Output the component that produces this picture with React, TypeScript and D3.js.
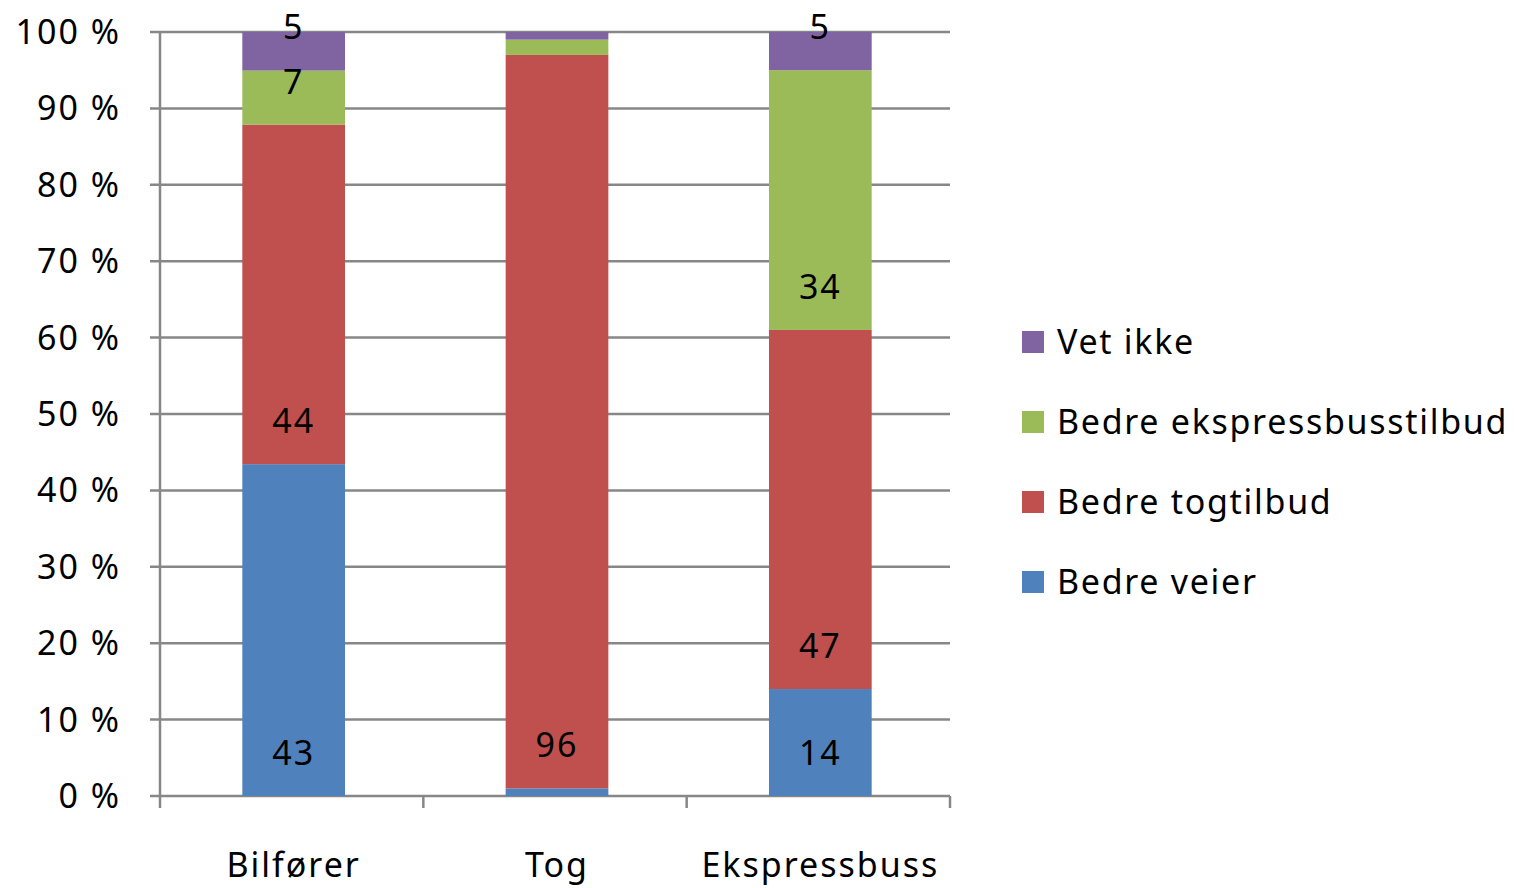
import React from "react"
import * as d3 from "d3"

const categories = ["Bilfører", "Tog", "Ekspressbuss"]
const seriesNames = ["Bedre veier", "Bedre togtilbud", "Bedre ekspressbusstilbud", "Vet ikke"]
const veier = [43, 1, 14]
const togtilbud = [44, 96, 47]
const ekspress = [7, 2, 34]
const vetIkke = [5, 1, 5]
const colors = ["#4F81BD", "#C0504D", "#9BBB59", "#8064A2"]
const yTicks = [0, 10, 20, 30, 40, 50, 60, 70, 80, 90, 100]

const W = 1515
const H = 888
const left = 160
const right = 950
const top = 32
const bottom = 796
const font = "'Noto Sans', 'Open Sans', sans-serif"

const App = () => {
	const values = [veier, togtilbud, ekspress, vetIkke]

	// 100% stacked: normalise each category
	const rows = categories.map((c, i) => {
		const row: any = { cat: c }
		seriesNames.forEach((s, k) => (row[s] = values[k][i]))
		return row
	})
	const stack = d3.stack().keys(seriesNames).offset(d3.stackOffsetExpand)
	const stacked = stack(rows)

	const x = d3
		.scaleBand()
		.domain(categories)
		.range([left, right])
		.paddingInner(0.61)
		.paddingOuter(0.305)
	const y = d3.scaleLinear().domain([0, 1]).range([bottom, top])
	const step = x.step()
	const boundaries = d3.range(categories.length + 1).map(i => left + i * step)
	const cx = (c: string) => (x(c) as number) + x.bandwidth() / 2 + 2

	return (
		<svg width={W} height={H} style={{ display: "block", position: "absolute", left: 0, top: 0 }}>
			<rect width={W} height={H} fill="#fff" />
			{/* gridlines */}
			{yTicks.map(t => (
				<line
					key={t}
					x1={left - 10}
					x2={right}
					y1={y(t / 100)}
					y2={y(t / 100)}
					stroke="#878787"
					strokeWidth={2.5}
				/>
			))}
			{/* axes */}
			<line x1={left} x2={left} y1={top} y2={bottom + 12} stroke="#878787" strokeWidth={2.5} />
			{boundaries.slice(1).map((b, i) => (
				<line key={i} x1={b} x2={b} y1={bottom} y2={bottom + 12} stroke="#878787" strokeWidth={2.5} />
			))}
			{yTicks.map(t => (
				<text
					key={t}
					x={121}
					y={y(t / 100)}
					dy="0.35em"
					textAnchor="end"
					fontFamily={font}
					fontSize={34}
					letterSpacing={2}
					fill="#000"
				>
					{t} %
				</text>
			))}
			{/* bars */}
			{stacked.map((s, k) =>
				s.map((d, i) => (
					<rect
						key={k + "-" + i}
						x={cx(categories[i]) - x.bandwidth() / 2}
						width={x.bandwidth()}
						y={y(d[1])}
						height={y(d[0]) - y(d[1])}
						fill={colors[k]}
					/>
				)),
			)}
			{/* data labels, inside base */}
			{stacked.map((s, k) =>
				s.map((d, i) =>
					values[k][i] >= 3 ? (
						<text
							key={"l" + k + "-" + i}
							x={cx(categories[i])}
							y={y(d[0]) - 43}
							dy="0.35em"
							textAnchor="middle"
							fontFamily={font}
							fontSize={34}
							letterSpacing={2}
							fill="#000"
						>
							{values[k][i]}
						</text>
					) : null,
				),
			)}
			{/* x labels */}
			{categories.map(c => (
				<text
					key={c}
					x={cx(c)}
					y={877}
					textAnchor="middle"
					fontFamily={font}
					fontSize={34}
					letterSpacing={2}
					fill="#000"
				>
					{c}
				</text>
			))}
			{/* legend */}
			{seriesNames
				.slice()
				.reverse()
				.map((s, i) => {
					const cy = 342 + i * 80
					const ci = seriesNames.indexOf(s)
					return (
						<g key={s}>
							<rect x={1022} y={cy - 11} width={22} height={22} fill={colors[ci]} />
							<text
								x={1057}
								y={cy}
								dy="0.35em"
								fontFamily={font}
								fontSize={34}
								letterSpacing={1.7}
								fill="#000"
							>
								{s}
							</text>
						</g>
					)
				})}
		</svg>
	)
}

export default App
